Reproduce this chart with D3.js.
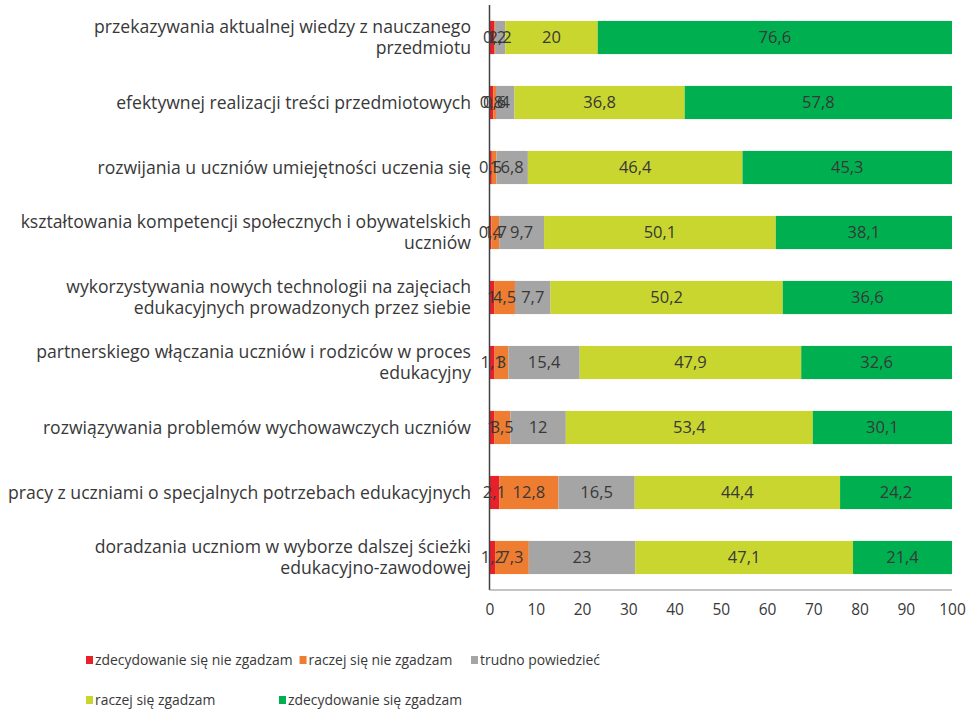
<!DOCTYPE html>
<html><head><meta charset="utf-8">
<script src="https://cdn.jsdelivr.net/npm/d3@7/dist/d3.min.js"></script>
<style>body{margin:0;background:#fff}svg{display:block}</style>
</head><body>
<script>
const categories = [
  "przekazywania aktualnej wiedzy z nauczanego\nprzedmiotu",
  "efektywnej realizacji treści przedmiotowych",
  "rozwijania u uczniów umiejętności uczenia się",
  "kształtowania kompetencji społecznych i obywatelskich\nuczniów",
  "wykorzystywania nowych technologii na zajęciach\nedukacyjnych prowadzonych przez siebie",
  "partnerskiego włączania uczniów i rodziców w proces\nedukacyjny",
  "rozwiązywania problemów wychowawczych uczniów",
  "pracy z uczniami o specjalnych potrzebach edukacyjnych",
  "doradzania uczniom w wyborze dalszej ścieżki\nedukacyjno-zawodowej"
];
const seriesNames = ["zdecydowanie się nie zgadzam","raczej się nie zgadzam","trudno powiedzieć","raczej się zgadzam","zdecydowanie się zgadzam"];
const colors = ["#e8202a","#ee7d31","#a5a5a5","#c9d62f","#00b050"];
const strongDisagree = [1, 0.8, 0.5, 0.4, 1, 1.1, 1, 2.1, 1.2];
const ratherDisagree = [0.2, 0.6, 1, 1.7, 4.5, 3, 3.5, 12.8, 7.3];
const hardToSay = [2.2, 4, 6.8, 9.7, 7.7, 15.4, 12, 16.5, 23];
const ratherAgree = [20, 36.8, 46.4, 50.1, 50.2, 47.9, 53.4, 44.4, 47.1];
const stronglyAgree = [76.6, 57.8, 45.3, 38.1, 36.6, 32.6, 30.1, 24.2, 21.4];
const xTicks = [0,10,20,30,40,50,60,70,80,90,100];

const series = [strongDisagree, ratherDisagree, hardToSay, ratherAgree, stronglyAgree];
const W = 975, H = 712;
const svg = d3.select("body").append("svg").attr("width", W).attr("height", H);
const font = "'Open Sans', sans-serif";
const textColor = "#383838";

const x = d3.scaleLinear().domain([0,100]).range([489.5, 952]);
const y = d3.scaleBand().domain(d3.range(categories.length)).range([5, 590]).paddingInner(0.49).paddingOuter(0.245);

// bars
categories.forEach((c, i) => {
  let acc = 0;
  series.forEach((s, k) => {
    const v = s[i];
    const x0 = x(acc), x1 = x(acc + v);
    svg.append("rect").attr("x", x0).attr("y", y(i)).attr("width", x1 - x0).attr("height", y.bandwidth()).attr("fill", colors[k]);
    acc += v;
  });
});
// value labels
categories.forEach((c, i) => {
  let acc = 0;
  series.forEach((s, k) => {
    const v = s[i];
    svg.append("text").attr("x", x(acc + v/2)).attr("y", y(i) + y.bandwidth()/2).attr("dy", "0.35em")
      .attr("text-anchor", "middle").attr("font-family", font).attr("font-size", 16.5).attr("fill", textColor)
      .text(String(v).replace(".", ","));
    acc += v;
  });
});

// axes lines
svg.append("line").attr("x1", x(0)).attr("x2", x(0)).attr("y1", 5).attr("y2", 590).attr("stroke", "#404040").attr("stroke-width", 1.5);
svg.append("line").attr("x1", x(0)).attr("x2", x(100)).attr("y1", 590).attr("y2", 590).attr("stroke", "#8a8a8a").attr("stroke-width", 1.2);
const xAxis = d3.axisBottom(x).tickValues(xTicks).tickSize(0).tickPadding(14);
const gx = svg.append("g").attr("transform", "translate(0,590)").call(xAxis);
gx.select(".domain").remove();
gx.selectAll("text").attr("font-family", font).attr("font-size", 15.5).attr("fill", textColor);

// category labels
categories.forEach((c, i) => {
  const lines = c.split("\n");
  const cy = y(i) + y.bandwidth()/2;
  const lh = 21;
  const t = svg.append("text").attr("text-anchor", "end").attr("font-family", font).attr("font-size", 17.6).attr("fill", textColor);
  lines.forEach((ln, j) => {
    t.append("tspan").attr("x", 471).attr("y", cy + (j - (lines.length-1)/2) * lh).attr("dy", "0.35em").text(ln);
  });
});

// legend (rows; each item starts at its nominal x or after the previous item's text)
const legendRows = [[0,1,2],[3,4]];
const legendX = [86, 276, 471, 86, 279];
const legendY = [660, 700];
legendRows.forEach((row, r) => {
  let prevEnd = 0;
  row.forEach(k => {
    const lx = Math.max(legendX[k], prevEnd + 7);
    const ly = legendY[r];
    svg.append("rect").attr("x", lx).attr("y", ly - 4).attr("width", 7).attr("height", 8).attr("fill", colors[k]);
    const t = svg.append("text").attr("x", lx + 9).attr("y", ly).attr("dy", "0.35em").attr("font-family", font).attr("font-size", 13.9).attr("fill", textColor).text(seriesNames[k]);
    prevEnd = lx + 9 + t.node().getComputedTextLength();
  });
});
</script>
</body></html>
